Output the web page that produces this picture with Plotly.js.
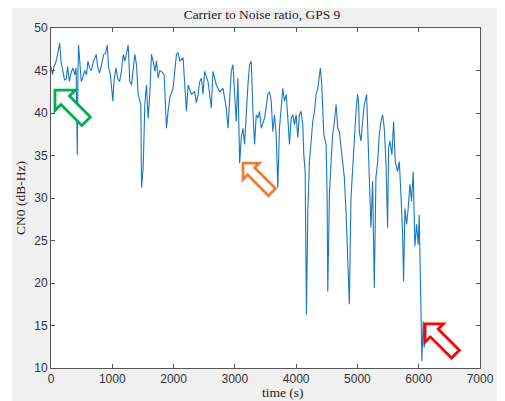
<!DOCTYPE html>
<html>
<head>
<meta charset="utf-8">
<script src="https://cdn.plot.ly/plotly-3.0.1.min.js"></script>
<style>html,body{margin:0;padding:0;background:#fff;}#chart{width:505px;height:401px;}</style>
</head>
<body>
<div id="chart"></div>
<script>
// time (s)
var timeSec = [0,25,50,80,110,141,165,195,220,250,270,300,330,360,390,410,429,440,450,470,494,520,550,580,602,630,660,690,738,760,790,820,860,890,917,940,970,1009,1030,1060,1090,1120,1150,1180,
1205,1259,1286,1314,1368,1395,1422,1466,1477,1504,1531,1558,1585,1612,1639,1667,1694,1721,1748,1775,1802,1846,1884,1911,1938,1992,2020,2047,2074,2101,2155,2182,2210,2237,2291,2345,2372,2400,2427,
2455,2480,2507,2562,2616,2643,2698,2752,2806,2860,2888,2942,2969,2996,3023,3050,3078,3105,3132,3159,3186,3213,3240,3268,3295,3322,3349,3376,3403,3431,3485,3539,3566,3593,3620,
3647,3674,3701,3728,3756,3783,3810,3837,3864,3891,3919,3946,3973,4000,4027,4054,4081,4109,4125,4147,4168,4190,4217,4244,4271,4299,4326,4353,4380,4396,4418,4451,4489,4505,4516,4543,4570,4597,4624,4652,4679,4706,4733,4787,4814,4842,
4868,4895,4922,4949,4977,5004,5020,5031,5058,5085,5112,5150,5167,5194,5221,5248,5275,5302,5330,5357,5384,5411,5438,5465,5492,5509,5530,5563,5590,5617,5655,5683,5710,5737,5753,5775,5802,5829,5856,5883,5910,5938,5965,5992,6008,6019,6035,6052,6073,6090,6106];
// carrier to noise ratio (dB-Hz)
var cn0 = [45.5,44.5,45.5,46,47,48.2,46,44.9,43.9,44,45.5,43.7,44.8,45.3,44.5,45.3,35.1,45,48,46,43.7,44.2,45,44.5,46.1,45.3,45,46,46.9,45.5,44.7,45.5,46.9,47,48,45.4,44.5,41.4,44,45.3,44,43.7,45,46.9,
46.1,48,43.7,43.3,46.9,45.7,42.2,41,31.2,33.5,41,43.3,39.4,42.2,46.9,46.1,44.9,46.1,44.1,45,44.9,44.5,38.2,40.2,41.8,42.9,45.3,46.9,47.1,46.1,46.5,43.7,40.2,43.3,42.2,42.5,41.2,42.2,43.7,
44.1,42.2,44.9,43.7,40.6,44.9,43.3,42.5,42.9,40.6,38.2,44.9,45.7,42.2,39,44.1,34.1,37.1,38.2,36.3,40.2,43.3,45.7,46.1,40.2,36.3,39.8,39.4,40.2,38.2,39.4,42.2,42.5,41.4,37.8,
39.8,37.5,31.2,38.2,40.2,42.9,41.4,42.2,39.4,36.3,39.4,39.8,38.6,39.8,37.1,39.8,40.2,38.6,35.1,33.1,16.3,28.4,34.3,37.1,39,40.2,42.2,42.9,44.5,45.3,43.3,37.5,36.3,30.4,19,30.4,34.3,37.5,39,41,38.2,37.8,35.9,32.4,28.4,22.5,
17.5,30,33.5,37.5,40.2,42.2,41,37.8,36.7,39,41,42.2,37.5,32.4,26.5,32,19.4,32.4,34.3,37.5,39,39.8,38.2,34.3,26.5,35.9,36.7,35.1,39,34.3,33.1,34.3,30.4,25.7,20.2,28.8,26.9,28.8,31.6,29.6,33.1,24.3,26.9,24.5,28,22.5,14.7,10.8,15.5,12.4,14.7];

var xTicks = [0,1000,2000,3000,4000,5000,6000,7000];
var yTicks = [10,15,20,25,30,35,40,45,50];

// highlight arrows: tip position in data units, colour
var arrowTipsT = [65, 3133, 6103];
var arrowTipsV = [42.7, 34.1, 15.2];
var arrowColors = ['#00B050', '#ED7D31', '#FF0000'];
var arrowSize = [[14.5, 6, 44], [11.5, 5, 41], [13, 5.5, 43]]; // head, shaft half width, length (px)

var W = 505, H = 401;
var M = {l: 51, r: 25, t: 28, b: 33};
var pw = W - M.l - M.r, ph = H - M.t - M.b;
var xr = [0, 7000], yr = [10, 50];
function px2x(p){ return xr[0] + (p) * (xr[1]-xr[0]) / pw; }
function py2y(p){ return yr[1] - (p) * (yr[1]-yr[0]) / ph; }
function x2px(x){ return (x - xr[0]) * pw / (xr[1]-xr[0]); }
function y2py(y){ return (yr[1] - y) * ph / (yr[1]-yr[0]); }

function arrowPath(tT, tV, h, ws, L){
  var tx = x2px(tT), ty = y2py(tV);
  var s = Math.SQRT1_2;
  var d = [s, s], n = [-s, s];
  var pts = [[0,0],[h,h],[h,ws],[L,ws],[L,-ws],[h,-ws],[h,-h]];
  var out = pts.map(function(p){
    var X = tx + p[0]*d[0] + p[1]*n[0];
    var Y = ty + p[0]*d[1] + p[1]*n[1];
    return px2x(X).toFixed(2) + ',' + py2y(Y).toFixed(3);
  });
  return 'M' + out.join('L') + 'Z';
}

var shapes = [];
for (var i = 0; i < arrowTipsT.length; i++) {
  shapes.push({type:'path', xref:'x', yref:'y', path: arrowPath(arrowTipsT[i], arrowTipsV[i], arrowSize[i][0], arrowSize[i][1], arrowSize[i][2]),
    line:{color: arrowColors[i], width: 2.8}, fillcolor:'#ffffff', layer:'above'});
}
// white outer margins (figure window edge)
shapes.push({type:'rect', xref:'paper', yref:'paper', x0:-1, x1:2, y0:1 + 20/ph, y1:3, fillcolor:'#ffffff', line:{width:0}, layer:'above'});
shapes.push({type:'rect', xref:'paper', yref:'paper', x0:-1, x1:-39/pw, y0:-1, y1:3, fillcolor:'#ffffff', line:{width:0}, layer:'above'});
shapes.push({type:'rect', xref:'paper', yref:'paper', x0:1 + 17/pw, x1:3, y0:-1, y1:3, fillcolor:'#ffffff', line:{width:0}, layer:'above'});

var trace = {x: timeSec, y: cn0, type:'scatter', mode:'lines', line:{color:'#1a78c2', width:1.1}, hoverinfo:'skip'};

var axisCommon = {showgrid:false, zeroline:false, showline:true, linecolor:'#555', linewidth:1, mirror:'ticks', ticks:'inside', ticklen:4, tickcolor:'#555',
  tickfont:{family:'Liberation Sans, Arial, sans-serif', size:12, color:'#333'}};

var serif = 'Liberation Serif, Times New Roman, serif';
var layout = {
  width: W, height: H,
  margin: M,
  paper_bgcolor:'#f0f0f0', plot_bgcolor:'#ffffff',
  showlegend:false,
  title:{text:'Carrier to Noise ratio, GPS 9', font:{family:serif, size:13.5, color:'#222'}, x:262/W, xanchor:'center', xref:'container', y:1 - 14/H, yanchor:'middle', yref:'container'},
  xaxis: Object.assign({}, axisCommon, {range:xr, tickvals:xTicks, ticktext:xTicks.map(String)}),
  yaxis: Object.assign({}, axisCommon, {range:yr, tickvals:yTicks, ticktext:yTicks.map(String), title:{text:'CN0 (dB-Hz)', font:{family:serif, size:13.5, color:'#222'}, standoff:5}}),
  annotations: [{text:'time (s)', xref:'paper', yref:'paper', x:(283 - M.l)/pw, y:-(392 - M.t - ph)/ph, xanchor:'center', yanchor:'middle', showarrow:false,
    font:{family:serif, size:13.5, color:'#222'}}],
  shapes: shapes
};

Plotly.newPlot('chart', [trace], layout, {staticPlot:true, displayModeBar:false});
</script>
</body>
</html>
